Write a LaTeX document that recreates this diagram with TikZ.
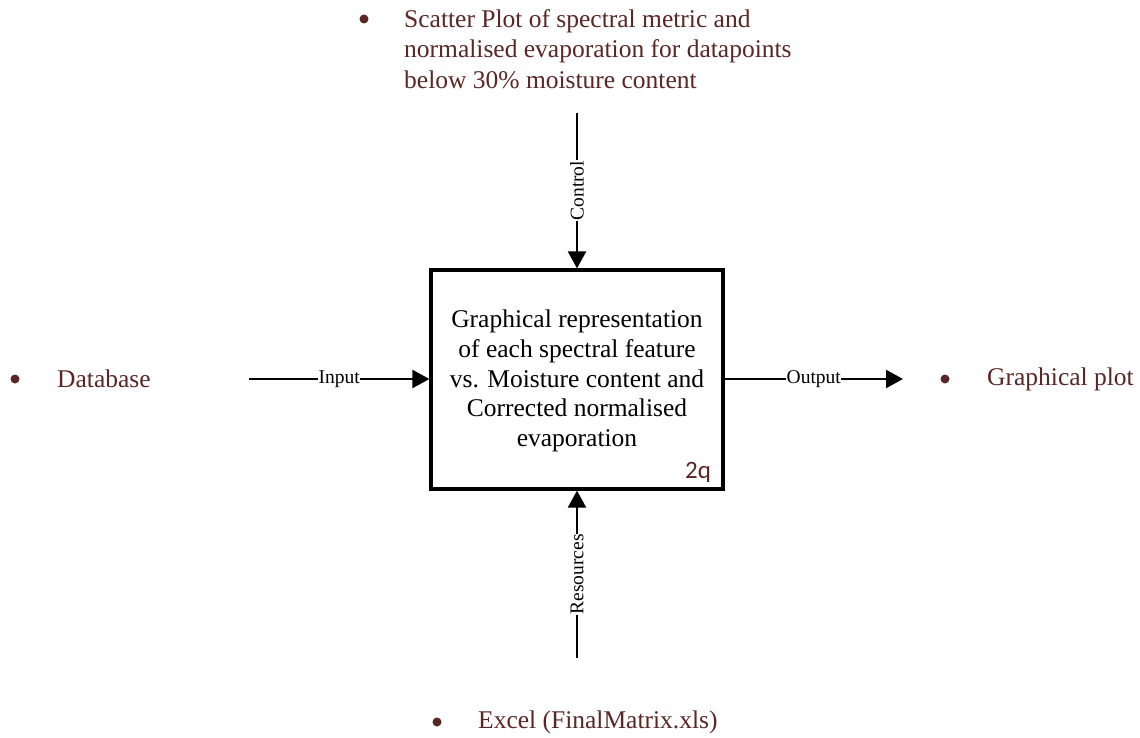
\documentclass[tikz,border=0pt]{standalone}
\usepackage{fontspec}
\setmainfont{Liberation Serif}
\newfontfamily\labelsans{Carlito}
\usetikzlibrary{arrows.meta}
\definecolor{itemred}{RGB}{90,38,38}
\begin{document}
\begin{tikzpicture}[x=1pt,y=-1pt,
  flow/.style={line width=2.2pt,-{Triangle[length=17pt,width=18pt]}},
  flowlabel/.style={fill=white,inner sep=0.5pt,font=\fontsize{19.5}{22}\selectfont},
  itemdot/.style={circle,fill=itemred,inner sep=0pt,minimum size=9pt},
  itemtext/.style={anchor=west,text=itemred,align=left,inner sep=0pt,font=\fontsize{25.5}{30.5}\selectfont}]
\useasboundingbox (0,0) rectangle (1140,738);

% activity box
\node[draw,line width=3.2pt,minimum width=292pt,minimum height=219pt,inner sep=0pt] (box) at (577,379.5) {};
\node[align=center,font=\fontsize{25.5}{29.8}\selectfont] (boxtext) at (577,381) {Graphical representation\\of each spectral feature\\vs. Moisture content and\\Corrected normalised\\evaporation};
\node[text=itemred,font=\labelsans\fontsize{25}{28}\selectfont,inner sep=0pt] (code) at (698,472) {2q};

% free ends of the connectors
\coordinate (inEnd) at (249,379);
\coordinate (outEnd) at (903,379);
\coordinate (ctlEnd) at (577,113);
\coordinate (resEnd) at (577,658);

\draw[flow] (inEnd) -- node[flowlabel] (inlbl) {Input} (box.west |- inEnd);
\draw[flow] (box.east |- outEnd) -- node[flowlabel] (outlbl) {Output} (outEnd);
\draw[flow] (ctlEnd) -- node[flowlabel,rotate=90] (ctllbl) {Control} (box.north -| ctlEnd);
\draw[flow] (resEnd) -- node[flowlabel,rotate=90] (reslbl) {Resources} (box.south -| resEnd);

% bulleted items
\node[itemdot] (dotIn) at (15,379) {};
\node[itemtext] (txtIn) at (57,379) {Database};
\node[itemdot] (dotOut) at (945,379) {};
\node[itemtext] (txtOut) at (987,379) {Graphical plot};
\node[itemdot] (dotCtl) at (364,19) {};
\node[itemtext,anchor=north west] (txtCtl) at (404,9) {Scatter Plot of spectral metric and\\normalised evaporation for datapoints\\below 30\% moisture content};
\node[itemdot] (dotRes) at (437,722) {};
\node[itemtext] (txtRes) at (478,722) {Excel (FinalMatrix.xls)};
\end{tikzpicture}
\end{document}
